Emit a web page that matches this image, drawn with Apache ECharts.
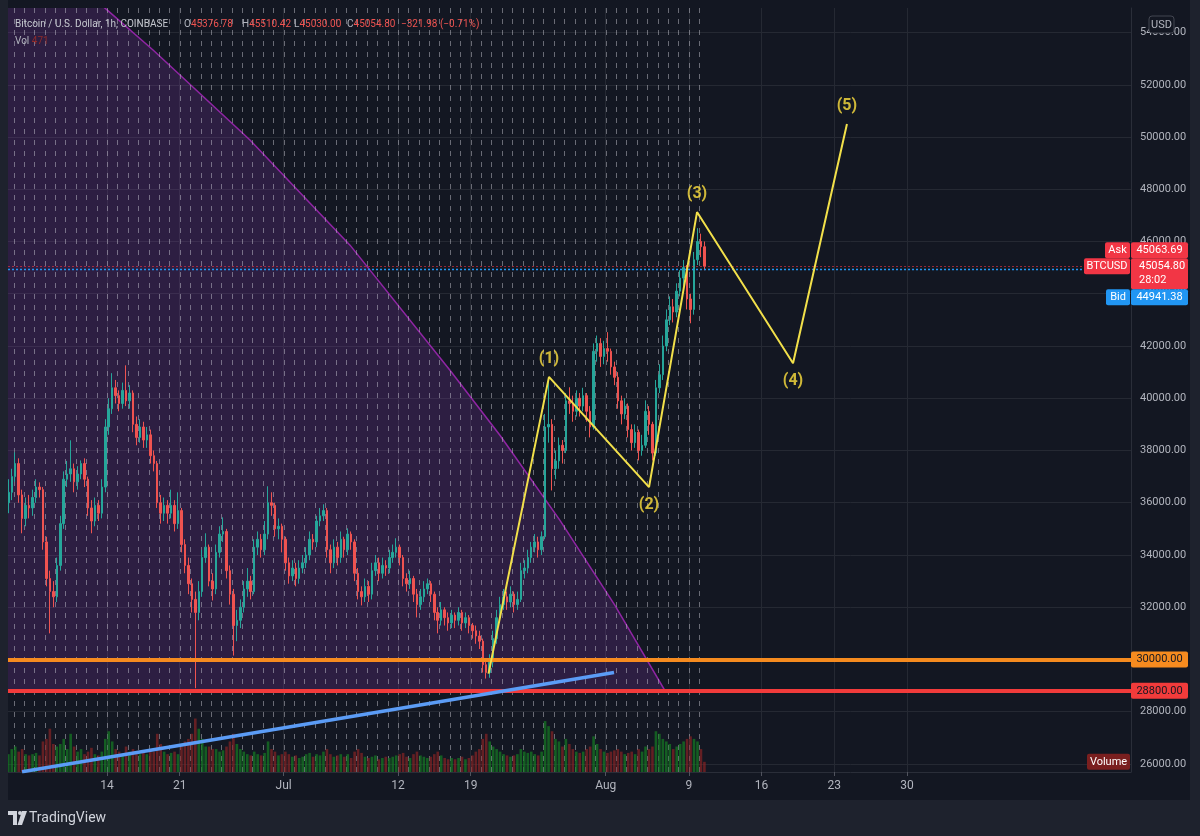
<!doctype html>
<html>
<head>
<meta charset="utf-8">
<title>BTCUSD 1h</title>
<script src="https://cdn.jsdelivr.net/npm/echarts@6/dist/echarts.min.js"></script>
<style>
html, body { margin: 0; padding: 0; background: #1e222d; }
#main { width: 1200px; height: 836px; }
</style>
</head>
<body>
<div id="main"></div>
<script>
// candles are 8h, x is "day number" counted from 1 June 2021 00:00
var firstCandleDay = 3.5;
var candleStep = 1 / 3;
var firstOpen = 36000;

var closes = [
  36400,37000,37500,36300,35400,35900,35800,36200,36600,36500,
  34500,33100,32600,32400,33600,35200,36900,37100,37300,36800,
  37100,37500,36900,35800,35300,35900,35600,36600,38900,39600,
  40400,40100,39800,40300,39900,40200,39000,38500,38900,38400,
  38600,37800,37500,36000,35600,35900,35600,35900,35200,35700,
  34400,33600,32900,32300,31800,32600,33900,34300,33000,32700,
  34100,34800,34900,33400,32500,31300,31500,32000,32700,33000,
  32600,34300,34600,34200,34800,36000,35900,35000,35100,34600,
  33700,33200,33500,33100,33500,33700,34000,34600,34500,35300,
  35500,35700,34200,33700,34300,33900,34600,34200,34800,34500,
  33300,32600,32400,32800,32500,33400,33700,33300,33600,33500,
  33900,34100,34300,33900,33100,32900,33100,32500,32100,32400,
  32700,32900,32500,31800,31500,31900,31600,31400,31700,31500,
  31800,31400,31600,31300,31100,30900,30700,29800,29500,29900,
  30800,31600,32100,32400,32200,32500,32100,32300,33400,33500,
  33900,34300,34500,34200,34700,38900,39000,37300,37600,38200,
  38000,39900,39800,39500,40000,39700,40100,39500,38900,41800,
  42100,41600,41900,41800,41200,40800,39900,39400,39700,38800,
  38300,38700,38000,38200,39500,39000,37900,40400,40900,42000,
  43000,43500,43300,44100,44600,45000,43800,43400,45300,46000,
  45800,45054.8
];
var highs = [
  36900,37300,37930,37700,36500,36200,36300,36500,36900,36780,
  36600,34700,33400,33000,33900,35500,37200,37600,38390,37500,
  37400,37620,37700,37000,36100,36200,36100,36900,39200,40000,
  40960,40700,40300,40600,41260,40500,40300,39300,39200,39100,
  38900,38800,38000,37600,36300,36200,36100,36500,36100,36400,
  35800,34600,33900,33100,32600,33000,34200,34830,34400,33300,
  34400,35100,35440,35000,33600,32700,31900,32300,33000,33500,
  33200,34600,34900,34800,35300,36630,36400,36000,35400,35200,
  34700,33900,33800,33700,33800,34000,34300,34900,34800,35500,
  35800,35940,35800,34400,34600,34500,34900,34700,35020,34900,
  34600,33500,32800,33100,33000,33700,34000,33900,33900,33800,
  34200,34400,34640,34400,34000,33300,33400,33200,32700,32700,
  33000,33100,33000,32600,32000,32200,32000,31800,31900,31800,
  32000,31900,31800,31700,31400,31300,31100,30800,30000,30200,
  31100,31900,32400,32700,32600,32800,32600,32600,33700,33800,
  34200,34500,34800,34700,34900,39400,40690,39200,38000,38500,
  38400,40200,40420,40100,40300,40200,40400,40200,39700,42100,
  42400,42300,42200,42530,41900,41400,41000,40100,40000,39800,
  39000,39000,38800,38600,39920,39700,39100,40700,41300,42400,
  43400,43900,43800,44400,44900,45290,45100,44000,45600,46510,
  46300,46000
];
var lows = [
  35600,36100,36800,36000,34830,35100,35400,35500,36000,36200,
  34200,32800,31000,32000,32200,33400,35000,36600,36800,36400,
  36500,36900,36600,35500,34830,35100,35300,35400,36400,38600,
  39400,39800,39500,39600,39700,39600,38700,38200,38300,38100,
  38100,37500,37200,35800,35200,35300,35200,35400,34900,35000,
  34100,33300,32500,31800,28900,31500,32400,33700,32800,32260,
  32500,33900,34500,33100,32100,30150,30700,31200,31800,32400,
  32300,32500,34000,33900,34000,34600,35500,34700,34600,34100,
  33400,32900,33000,32800,32900,33300,33500,33800,34200,34300,
  35100,35300,33900,33300,33500,33600,33700,33900,34000,34200,
  33000,32300,32070,32200,32200,32300,33200,33000,33100,33200,
  33300,33700,33900,33600,32800,32600,32700,32200,31610,31900,
  32200,32500,32200,31500,31000,31300,31300,31100,31200,31200,
  31300,31100,31200,31000,30800,30600,30400,29500,29270,29300,
  29700,30600,31400,31900,31900,32000,31800,31900,32200,33100,
  33300,33700,34100,33900,34000,34600,38300,36470,36900,37300,
  37500,37900,39400,39100,39300,39300,39500,39100,38500,38800,
  41400,41200,41300,41400,40900,40500,39600,39000,39200,38500,
  38000,38100,37620,37800,38100,38600,37620,37800,40200,40700,
  41800,42800,42900,43100,43900,44300,43400,42870,43200,45100,
  45400,44900
];
var volumes = [
  700,900,1000,800,900,700,650,700,750,650,
  1200,1300,1700,1100,1000,1100,1300,900,1500,1000,
  800,900,700,800,950,700,650,800,1300,1600,
  1200,900,800,700,1000,800,900,800,700,750,
  700,900,800,1500,1100,800,700,750,800,700,
  1100,1200,1300,1500,2100,1700,1300,1000,1000,900,
  900,800,850,1000,1200,1500,1100,900,800,700,
  650,800,700,650,750,1200,900,800,650,700,
  800,700,600,650,550,600,700,750,600,700,
  650,800,900,700,600,650,700,600,700,550,
  800,900,750,600,550,600,650,500,550,600,
  550,600,650,700,750,600,550,700,800,650,
  600,550,600,700,800,650,550,500,550,500,
  550,600,500,550,650,800,900,1300,1500,1200,
  1000,900,800,700,650,600,650,700,900,800,
  750,800,700,650,800,2000,1800,1600,1300,1200,
  1000,1300,1100,900,800,750,800,900,1000,1400,
  1100,900,800,750,800,850,900,800,700,750,
  800,700,900,800,1000,900,1000,1600,1500,1300,
  1200,1100,900,1000,1100,1200,1300,1400,1300,1200,
  900,400
];

var xTickDays = [13, 20, 30, 41, 48, 61, 69, 76, 83, 90];
var xTickLabels = ['14', '21', 'Jul', '12', '19', 'Aug', '9', '16', '23', '30'];
var priceTicks = [26000, 28000, 30000, 32000, 34000, 36000, 38000, 40000,
                  42000, 44000, 46000, 48000, 50000, 52000, 54000];

// drawings
var wavePoints = [[49.72, 29460], [55.54, 40816], [65.17, 36600], [69.79, 47126], [79.03, 41341], [84.22, 50498]];
var waveNames = ['', '(1)', '(2)', '(3)', '(4)', '(5)'];
var waveLabelPos = ['', 'top', 'bottom', 'top', 'bottom', 'top'];
var trendLine = [[4.82, 25700], [61.8, 29502]];
var regionEdge = [[8.6, 56400], [13.0, 54864], [17.43, 53331], [26.76, 49883], [36.39, 45860],
                  [46.01, 41071], [50.82, 38581], [56.6, 35325], [61.89, 32069], [66.71, 28800]];
var orangeLevel = 30000;
var redLevel = 28800;
var lastPrice = 45054.80, askPrice = 45063.69, bidPrice = 44941.38;

var xMin = 3.47, xMax = 111.56;
var yMin = 25693, yMax = 54938;

var upColor = '#26a69a', downColor = '#ef5350';
var font = 'Roboto, "Liberation Sans", sans-serif';

var candleData = [], volumeData = [];
var open = firstOpen;
for (var i = 0; i < closes.length; i++) {
  var day = firstCandleDay + i * candleStep;
  candleData.push([day, open, closes[i], lows[i], highs[i]]);
  volumeData.push({
    value: [day, volumes[i]],
    itemStyle: { color: closes[i] >= open ? 'rgba(22,125,34,0.7)' : 'rgba(135,36,36,0.7)' }
  });
  open = closes[i];
}
var lastDay = firstCandleDay + (closes.length - 1) * candleStep;

// dotted session separators, one per day
var dayLines = [];
for (var d = Math.ceil(firstCandleDay); d <= lastDay; d++) dayLines.push([d, yMin]);

var regionPolygon = [[0, regionEdge[0][1]]].concat(regionEdge).concat([[0, redLevel]]);

var waveLabelData = [];
for (var k = 1; k < wavePoints.length; k++) {
  waveLabelData.push({
    value: wavePoints[k],
    label: { show: true, formatter: waveNames[k], position: waveLabelPos[k] }
  });
}

var chart = echarts.init(document.getElementById('main'));

var option = {
  backgroundColor: '#131722',
  animation: false,
  grid: { left: 8, right: 69, top: 8, bottom: 64 },
  xAxis: {
    type: 'value', min: xMin, max: xMax,
    axisLine: { show: true, lineStyle: { color: '#2a2e39' } },
    axisTick: { show: true, customValues: xTickDays, length: 4, lineStyle: { color: '#50535e' } },
    axisLabel: {
      customValues: xTickDays, color: '#b2b5be', fontSize: 12, fontFamily: font, margin: 8,
      formatter: function (v) { return xTickLabels[xTickDays.indexOf(v)]; }
    },
    splitLine: { show: true, lineStyle: { color: '#252933' } }
  },
  yAxis: [{
    type: 'value', position: 'right', min: yMin, max: yMax,
    axisLine: { show: true, lineStyle: { color: '#2a2e39' } },
    axisTick: { show: false, customValues: priceTicks },
    axisLabel: {
      customValues: priceTicks, color: '#b2b5be', fontSize: 11, fontFamily: font, margin: 9,
      formatter: function (v) { return v.toFixed(2); }
    },
    splitLine: { show: true, lineStyle: { color: '#252933' } }
  }, {
    type: 'value', min: 0, max: 30000, show: false
  }],
  series: [{
    type: 'custom', name: 'region', z: 1, clip: true, silent: true,
    data: [[xMin, yMin]],
    renderItem: function (params, api) {
      var pts = regionPolygon.map(function (p) { return api.coord(p); });
      return {
        type: 'polygon', shape: { points: pts },
        style: { fill: 'rgba(140,60,180,0.22)', stroke: 'rgba(156,39,176,0.9)', lineWidth: 1.5 }
      };
    }
  }, {
    type: 'custom', name: 'days', z: 2, clip: true, silent: true,
    data: dayLines,
    renderItem: function (params, api) {
      var a = api.coord([api.value(0), yMax]);
      var b = api.coord([api.value(0), yMin]);
      var x = Math.round(a[0]) + 0.5;
      return {
        type: 'line', shape: { x1: x, y1: a[1], x2: x, y2: b[1] },
        style: { stroke: 'rgba(210,210,220,0.45)', lineWidth: 1, lineDash: [5, 6] }
      };
    }
  }, {
    type: 'bar', name: 'Volume', yAxisIndex: 1, z: 3, barWidth: 2.6,
    data: volumeData
  }, {
    type: 'candlestick', name: 'BTCUSD', z: 4, barWidth: 2,
    data: candleData,
    encode: { x: 0, y: [1, 2, 3, 4] },
    itemStyle: { color: upColor, color0: downColor, borderColor: upColor, borderColor0: downColor, borderWidth: 1 }
  }, {
    type: 'line', name: 'trend', z: 6, symbol: 'none',
    data: trendLine,
    lineStyle: { color: '#5b9cf6', width: 3.5 },
    markLine: {
      silent: true, symbol: ['none', 'none'], z: 5, label: { show: false },
      data: [
        { yAxis: orangeLevel, lineStyle: { color: '#f68b1f', width: 4, type: 'solid' } },
        { yAxis: redLevel, lineStyle: { color: '#f23b3b', width: 4, type: 'solid' } },
        { yAxis: lastPrice, lineStyle: { color: 'rgba(242,54,69,0.6)', width: 1, type: [2, 2] } },
        { yAxis: bidPrice, lineStyle: { color: '#2196f3', width: 1.3, type: [2, 2] } }
      ]
    }
  }, {
    type: 'line', name: 'waves', z: 7, symbol: 'none',
    data: wavePoints,
    lineStyle: { color: '#f2e04a', width: 2 }
  }, {
    type: 'scatter', name: 'wave labels', z: 8, symbol: 'circle', symbolSize: 0,
    label: { color: '#ffe13f', fontSize: 16, fontWeight: 'bold', fontFamily: font, distance: 10 },
    data: waveLabelData
  }],
  graphic: []
};

chart.setOption(option);

function py(p) { return chart.convertToPixel({ yAxisIndex: 0 }, p); }

function badge(x, y, w, h, fill, text, color, z) {
  return [
    { type: 'rect', z: z || 100, shape: { x: x, y: y, width: w, height: h, r: 2 }, style: { fill: fill } },
    { type: 'text', z: (z || 100) + 1, x: x + w / 2, y: y + h / 2,
      style: { text: text, fill: color, font: '11px ' + font, align: 'center', verticalAlign: 'middle' } }
  ];
}

var yLast = py(lastPrice);
var yOrange = py(orangeLevel);
var yRed = py(redLevel);
var yVol = chart.convertToPixel({ yAxisIndex: 1 }, volumes[volumes.length - 1]);
var red = '#f23645', blue = '#2196f3';

var g = [];
// outer frame strips
g.push({ type: 'rect', z: 90, shape: { x: 0, y: 0, width: 8, height: 836 }, style: { fill: '#1e222d' } });
g.push({ type: 'rect', z: 90, shape: { x: 1190, y: 0, width: 10, height: 836 }, style: { fill: '#1e222d' } });
g.push({ type: 'rect', z: 90, shape: { x: 0, y: 800, width: 1200, height: 36 }, style: { fill: '#1e222d' } });

// header
var hf = '10px ' + font;
var hdr = { k: { fill: '#b2b5be', font: hf }, v: { fill: '#f05350', font: hf } };
g.push({ type: 'text', z: 110, x: 15, y: 24, style: { text: 'Bitcoin / U.S. Dollar, 1h, COINBASE', fill: '#c4c7ce', font: hf, verticalAlign: 'middle' } });
g.push({ type: 'text', z: 110, x: 184, y: 24, style: { text: '{k|O}{v|45376.78}', rich: hdr, verticalAlign: 'middle' } });
g.push({ type: 'text', z: 110, x: 242, y: 24, style: { text: '{k|H}{v|45510.42}', rich: hdr, verticalAlign: 'middle' } });
g.push({ type: 'text', z: 110, x: 294, y: 24, style: { text: '{k|L}{v|45030.00}', rich: hdr, verticalAlign: 'middle' } });
g.push({ type: 'text', z: 110, x: 347, y: 24, style: { text: '{k|C}{v|45054.80}', rich: hdr, verticalAlign: 'middle' } });
g.push({ type: 'text', z: 110, x: 401, y: 24, style: { text: '−321.98 (−0.71%)', fill: '#f05350', font: hf, verticalAlign: 'middle' } });
g.push({ type: 'text', z: 110, x: 15, y: 41, style: { text: '{k|Vol }{r|471}', rich: { k: { fill: '#b2b5be', font: hf }, r: { fill: '#8e2b2b', font: hf } }, verticalAlign: 'middle' } });

// USD
g.push({ type: 'rect', z: 110, shape: { x: 1149, y: 16, width: 25, height: 17, r: 3 }, style: { fill: '#131722', stroke: '#434651', lineWidth: 1 } });
g.push({ type: 'text', z: 111, x: 1161.5, y: 25, style: { text: 'USD', fill: '#b2b5be', font: '11px ' + font, align: 'center', verticalAlign: 'middle' } });

// price badges
g = g.concat(badge(1131, yLast - 24, 57, 16, red, '45063.69', '#fff'));
g = g.concat(badge(1105, yLast - 24, 25, 16, red, 'Ask', '#fff'));
g.push({ type: 'rect', z: 100, shape: { x: 1131, y: yLast - 8, width: 57, height: 31, r: 2 }, style: { fill: red } });
g.push({ type: 'text', z: 101, x: 1139, y: yLast, style: { text: '45054.80', fill: '#fff', font: '11px ' + font, verticalAlign: 'middle' } });
g.push({ type: 'text', z: 101, x: 1139, y: yLast + 14, style: { text: '28:02', fill: '#fff', font: '11px ' + font, verticalAlign: 'middle' } });
g = g.concat(badge(1084, yLast - 8, 46, 16, red, 'BTCUSD', '#fff'));
g = g.concat(badge(1131, yLast + 23, 57, 16, blue, '44941.38', '#fff'));
g = g.concat(badge(1106, yLast + 23, 24, 16, blue, 'Bid', '#fff'));
g = g.concat(badge(1131, yOrange - 8, 57, 16, '#f68b1f', '30000.00', '#131722'));
g = g.concat(badge(1131, yRed - 8, 57, 16, '#f23b3b', '28800.00', '#131722'));
g = g.concat(badge(1087, yVol - 8, 43, 16, '#7a1f1f', 'Volume', '#fff'));

// TradingView logo
g.push({ type: 'polygon', z: 110, shape: { points: [[8, 811], [17, 811], [17, 825], [13, 825], [13, 815], [8, 815]] }, style: { fill: '#d1d4dc' } });
g.push({ type: 'circle', z: 110, shape: { cx: 20, cy: 813, r: 2 }, style: { fill: '#d1d4dc' } });
g.push({ type: 'polygon', z: 110, shape: { points: [[22, 811], [27, 811], [22, 825], [17.5, 825]] }, style: { fill: '#d1d4dc' } });
g.push({ type: 'text', z: 110, x: 29, y: 818, style: { text: 'TradingView', fill: '#d1d4dc', font: '14px ' + font, verticalAlign: 'middle' } });

chart.setOption({ graphic: g });
</script>
</body>
</html>
